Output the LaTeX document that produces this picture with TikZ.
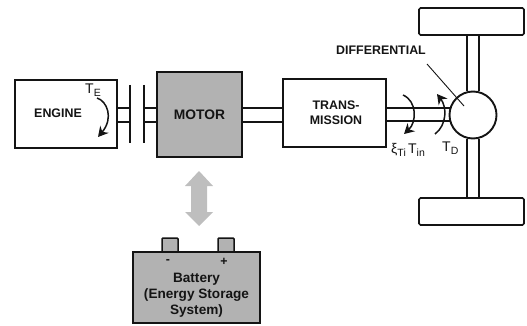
\documentclass[tikz,border=0pt]{standalone}
\usepackage{fontspec}
\setmainfont{Liberation Sans}
\usetikzlibrary{arrows.meta,calc}
\definecolor{boxgray}{RGB}{178,178,178}
\definecolor{arrowgray}{RGB}{190,190,190}
\definecolor{ink}{RGB}{20,20,20}
\tikzset{
  plain/.style={draw=ink,line width=1.6pt,fill=white,inner sep=0pt,align=center,font=\bfseries\fontsize{12.4}{15}\selectfont,text=ink},
  heavy/.style={plain,line width=2.2pt,fill=boxgray,font=\bfseries\fontsize{13.8}{16}\selectfont},
  wheelbox/.style={draw=ink,line width=1.6pt,fill=white,rounded corners=1.5pt,minimum width=105pt,minimum height=27pt,inner sep=0pt},
  shaft/.style={draw=ink,line width=1.3pt},
  plate/.style={draw=ink,line width=1.8pt},
  torque/.style={draw=ink,line width=1.5pt,-{Stealth[length=10pt,width=11pt]}},
  lbl/.style={inner sep=0pt,text=ink,font=\fontsize{14}{16}\selectfont},
  termbox/.style={draw=ink,line width=1.5pt,fill=boxgray,rounded corners=1pt,minimum width=16pt,minimum height=15pt,inner sep=0pt},
  caption/.style={inner sep=0pt,text=ink,align=center,font=\bfseries\fontsize{12.4}{15}\selectfont}
}
\begin{document}
\begin{tikzpicture}[x=1pt,y=-1pt]
\useasboundingbox (0,0) rectangle (527,326);
\coordinate (clA) at (130,85); \coordinate (clB) at (130,143);
\coordinate (crA) at (144,85); \coordinate (crB) at (144,143);
\node[plain,minimum width=102pt,minimum height=68pt] (engine) at (66,114) {};
\node[font=\bfseries\fontsize{12.4}{15}\selectfont,text=ink,inner sep=0pt] (enginetxt) at (58,113.5) {ENGINE};
\node[heavy,minimum width=85pt,minimum height=85pt] (motor) at (199.5,114.5) {MOTOR};
\node[plain,minimum width=103pt,minimum height=68pt] (trans) at (334.5,113) {};
\node[caption] (transtxt) at (336,113) {TRANS-\\MISSION};
\node[wheelbox] (wheeltop) at (471.5,21.5) {};
\node[wheelbox] (wheelbot) at (471.5,211.5) {};
\draw[shaft] (wheeltop.south -| 467,0) -- (467,91.5) (wheeltop.south -| 479,0) -- (479,91.5);
\draw[shaft] (467,138.5) -- (wheelbot.north -| 467,0) (479,138.5) -- (wheelbot.north -| 479,0);
\draw[shaft] (engine.east |- 0,108) -- (clA |- 0,108) (engine.east |- 0,122) -- (clA |- 0,122);
\draw[shaft] (crA |- 0,108) -- (motor.west |- 0,108) (crA |- 0,122) -- (motor.west |- 0,122);
\draw[plate] (clA) -- (clB);
\draw[plate] (crA) -- (crB);
\draw[shaft] (motor.east |- 0,108) -- (trans.west |- 0,108) (motor.east |- 0,122) -- (trans.west |- 0,122);
\draw[shaft] (trans.east |- 0,108) -- (450,108) (trans.east |- 0,121) -- (450,121);
\node[draw=ink,line width=1.9pt,fill=white,circle,minimum size=47pt,inner sep=0pt] (diff) at (473,115) {};
\draw[torque] (97,98) .. controls (107,101) and (114,118) .. (98,137);
\node[lbl] (te) at (93,90) {T\raisebox{-3pt}{\fontsize{10.5}{12}\selectfont E}};
\draw[torque] (403,95) .. controls (417,101) and (417,122) .. (404,134);
\draw[torque] (435,134) .. controls (447,125) and (447,107) .. (437,94);
\node[lbl,anchor=west] (tin) at (391,149.5) {ξ\raisebox{-3pt}{\fontsize{10.5}{12}\selectfont Ti}\,T\raisebox{-3pt}{\fontsize{10.5}{12}\selectfont in}};
\node[lbl,anchor=west] (td) at (442,148.5) {T\raisebox{-3pt}{\fontsize{10.5}{12}\selectfont D}};
\node[caption] (difflabel) at (381,50) {DIFFERENTIAL};
\coordinate (leader) at (427,64);
\coordinate (diffpt) at (464,106);
\draw[draw=ink,line width=0.9pt] (leader) -- (diffpt);
\node[termbox] (termL) at (170,245.5) {};
\node[termbox] (termR) at (226,245.5) {};
\node[draw=ink,line width=1.9pt,fill=boxgray,minimum width=127pt,minimum height=71pt,inner sep=0pt] (battery) at (196.5,287.5) {};
\node[caption,font=\bfseries\fontsize{13.6}{16.2}\selectfont] (batterytxt) at (196.5,295.5) {Battery\\(Energy Storage\\System)};
\node[caption] (minus) at (168,262) {-};
\node[caption] (plus) at (224,262) {+};
\fill[arrowgray] (199,171) -- (213,186) -- (207,186) -- (207,212) -- (213,212) -- (199,226) -- (185,212) -- (191,212) -- (191,186) -- (185,186) -- cycle;
\end{tikzpicture}
\end{document}
